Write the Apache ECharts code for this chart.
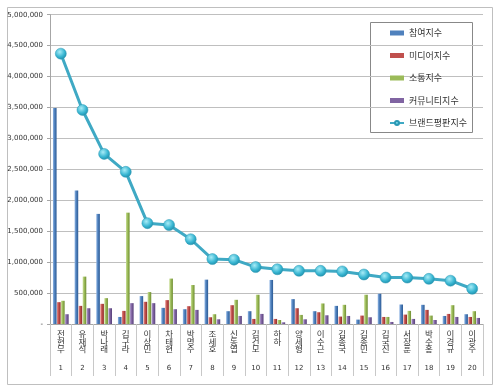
<!DOCTYPE html>
<html><head><meta charset="utf-8">
<script src="https://cdn.jsdelivr.net/npm/echarts@6/dist/echarts.min.js"></script>
<style>html,body{margin:0;padding:0;background:#fff}#c{width:500px;height:392px}</style>
</head><body><div id="c"></div>
<script>
const names = ['전현무','유재석','박나래','김구라','이상민','차태현','박명수','조세호','신동엽','김건모','하하','양세형','이수근','김종국','김종민','김국진','서장훈','박수홍','이경규','이광수'];
const ranks = ['1','2','3','4','5','6','7','8','9','10','11','12','13','14','15','16','17','18','19','20'];
const seriesNames = ['참여지수','미디어지수','소통지수','커뮤니티지수','브랜드평판지수'];
const participation = [3490000,2160000,1780000,114000,451000,261000,239000,717000,207000,207000,712000,402000,207000,293000,71000,489000,315000,310000,130000,158000];
const media = [353000,293000,326000,212000,359000,386000,288000,109000,304000,82000,82000,255000,190000,120000,136000,114000,152000,228000,163000,114000];
const communication = [375000,766000,418000,1800000,516000,734000,630000,158000,391000,473000,65000,147000,332000,310000,473000,114000,212000,136000,304000,207000];
const community = [158000,255000,255000,337000,337000,239000,228000,76000,130000,163000,27000,76000,141000,130000,109000,33000,82000,65000,114000,98000];
const brand = [4370000,3460000,2750000,2460000,1630000,1600000,1370000,1050000,1040000,920000,885000,860000,860000,850000,800000,750000,750000,730000,700000,570000];
const yTicks = {min:0, max:5000000, interval:500000};

const font = '"Noto Sans CJK KR", "Noto Sans", sans-serif';
function grad(light, mid, dark){
  return new echarts.graphic.LinearGradient(0,0,1,0,[{offset:0,color:light},{offset:0.45,color:mid},{offset:1,color:dark}]);
}
const barColors = [
  grad('#8fb4e3','#4f81bd','#2c5a94'),
  grad('#e58a88','#c0504d','#8e2a28'),
  grad('#c9de96','#9bbb59','#6e8c30'),
  grad('#b09ccc','#8064a2','#553f78')
];
const legendColors = ['#4f81bd','#c0504d','#9bbb59','#8064a2','#3fa9c4'];
const barData = [participation, media, communication, community];

const chart = echarts.init(document.getElementById('c'), null, {renderer:'canvas'});
const series = barData.map((d,i)=>({
  name: seriesNames[i], type:'bar', data:d, barWidth:3.6, barGap:'12%', xAxisIndex:0,
  itemStyle:{color:barColors[i]}, emphasis:{disabled:true}, z:2
}));
series.push({
  name: seriesNames[4], type:'line', data:brand, symbol:'circle', symbolSize:11, xAxisIndex:0,
  lineStyle:{color:'#3fa9c4', width:3},
  itemStyle:{color:new echarts.graphic.RadialGradient(0.4,0.35,0.7,[{offset:0,color:'#a8ecf7'},{offset:0.6,color:'#38b6d2'},{offset:1,color:'#1e8aa6'}]), borderColor:'#2a98b4', borderWidth:0.5},
  z:5, emphasis:{disabled:true}
});
chart.setOption({
  animation:false,
  color: legendColors,
  textStyle:{fontFamily:font},
  grid:{left:50, right:17, top:14.7, bottom:68, containLabel:false},
  legend:{
    orient:'vertical', left:389, top:27, padding:0, itemGap:10.5,
    itemWidth:14, itemHeight:5,
    textStyle:{fontSize:9, color:'#333', fontFamily:font, lineHeight:12},
    data: seriesNames.map((n,i)=> i<4 ? {name:n, icon:'rect', itemStyle:{color:legendColors[i]}} : {name:n})
  },
  xAxis:[{
    type:'category', data:names, boundaryGap:true, position:'bottom',
    axisLine:{lineStyle:{color:'#a6a6a6'}},
    axisTick:{show:true, interval:0, length:52, lineStyle:{color:'#c8c8c8'}},
    axisLabel:{
      interval:0, margin:6, color:'#333', fontFamily:font, fontSize:8.5, lineHeight:7.7,
      formatter:(v)=> v.split('').join('\n')
    }
  },{
    type:'category', data:ranks, boundaryGap:true, position:'bottom',
    axisLine:{show:false}, axisTick:{show:false}, splitLine:{show:false},
    axisLabel:{interval:0, margin:41, fontSize:7, color:'#333', fontFamily:'"DejaVu Sans", sans-serif'}
  }],
  yAxis:{
    type:'value', min:yTicks.min, max:yTicks.max, interval:yTicks.interval,
    axisLine:{show:true, lineStyle:{color:'#a6a6a6'}},
    axisTick:{show:true, length:3, lineStyle:{color:'#a6a6a6'}},
    splitLine:{lineStyle:{color:'#bfbfbf'}},
    axisLabel:{fontSize:7, color:'#333', margin:7, fontFamily:'"DejaVu Sans", sans-serif',
      formatter:v=> v===0 ? '-' : v.toLocaleString('en-US')}
  },
  graphic:[
    {type:'rect', shape:{x:7.5,y:7.5,width:485,height:377}, style:{fill:'none', stroke:'#bfbfbf', lineWidth:1}, z:-1},
    {type:'rect', shape:{x:370.5,y:22.5,width:102,height:110}, style:{fill:'#fff', stroke:'#888', lineWidth:1}, z:0}
  ],
  series: series
});
</script></body></html>
